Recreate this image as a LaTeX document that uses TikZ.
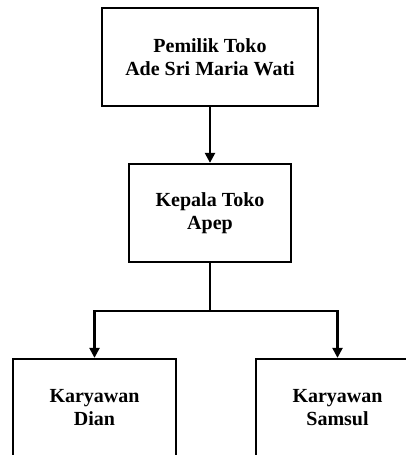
\documentclass[tikz,border=0pt]{standalone}
\usepackage{fontspec}
\setmainfont{Liberation Serif}
\usetikzlibrary{arrows.meta}
\begin{document}
\begin{tikzpicture}[x=1pt,y=-1pt,
  box/.style={draw,line width=2.3pt,rectangle,minimum height=98pt,align=center,
    inner sep=0pt,font=\bfseries\fontsize{20}{23}\selectfont},
  link/.style={line width=2.3pt,-{Triangle[width=10pt,length=10pt]}}]
  \useasboundingbox (0,0) rectangle (406,455);
  \clip (0,0) rectangle (406,455);
  \node[box,minimum width=216pt] (owner) at (210,57) {Pemilik Toko\\Ade Sri Maria Wati};
  \node[box,minimum width=162pt] (head) at (210,213) {Kepala Toko\\Apep};
  \node[box,minimum width=163pt] (emp1) at (94.5,408) {Karyawan\\Dian};
  \node[box,minimum width=163pt] (emp2) at (337.5,408) {Karyawan\\Samsul};
  \coordinate (split) at (210,311);
  \draw[link] (owner.south) -- (head.north);
  \draw[line width=2.3pt] (head.south) -- (split);
  \draw[link] (split) -| (emp1.north);
  \draw[link] (split) -| (emp2.north);
\end{tikzpicture}
\end{document}
